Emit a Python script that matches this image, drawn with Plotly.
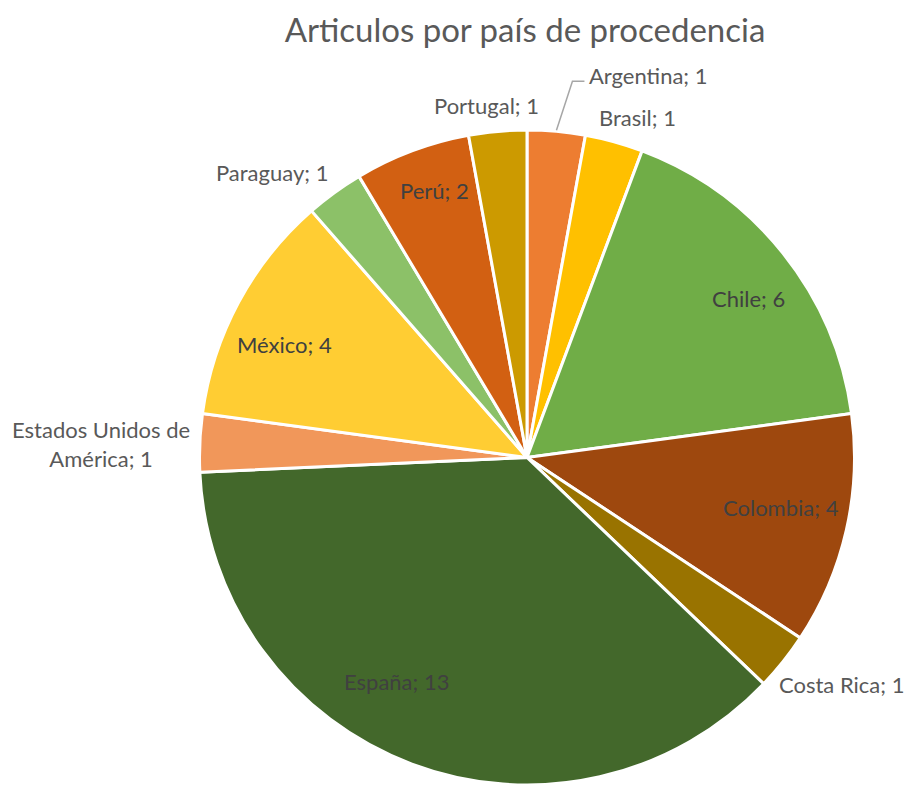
import math
import plotly.graph_objects as go

# ---- data ----
countries = ["Argentina", "Brasil", "Chile", "Colombia", "Costa Rica", "España",
             "Estados Unidos de América", "México", "Paraguay", "Perú", "Portugal"]
articles = [1, 1, 6, 4, 1, 13, 1, 4, 1, 2, 1]
label_texts = ["Argentina; 1", "Brasil; 1", "Chile; 6", "Colombia; 4", "Costa Rica; 1",
               "España; 13", "Estados Unidos de<br>América; 1", "México; 4",
               "Paraguay; 1", "Perú; 2", "Portugal; 1"]

# ---- style ----
colors = ["#ED7D31", "#FFC000", "#70AD47", "#9E480E", "#997300", "#43682B",
          "#F1975A", "#FFCD33", "#8CC168", "#D26012", "#CC9A00"]
label_mode = ["leader", "out", "in", "in", "out", "in", "out", "in", "out", "in", "out"]
# small pixel nudges of label text (style only)
label_nudge = [(0, 0), (-19, -1), (12, 8), (-8, -10), (-12, 2), (-36, -27),
               (0, 2), (-6, 14), (0, 2), (2, -16), (-10, -2)]

# page body has an 8px margin: work in window pixels and convert
OFF = 8
W, H = 912 - OFF, 785 - OFF
# pie placement in window pixels
PIE_CX, PIE_CY, PIE_R = 527, 458, 328

def to_paper(px, py):
    return (px - OFF) / W, 1 - (py - OFF) / H

dom_x = [(PIE_CX - PIE_R - OFF) / W, (PIE_CX + PIE_R - OFF) / W]
dom_y = [1 - (PIE_CY + PIE_R - OFF) / H, 1 - (PIE_CY - PIE_R - OFF) / H]

fig = go.Figure(go.Pie(
    labels=countries,
    values=articles,
    sort=False,
    direction="clockwise",
    rotation=0,
    marker=dict(colors=colors, line=dict(color="white", width=3)),
    textinfo="none",
    hoverinfo="label+value",
    domain=dict(x=dom_x, y=[max(0.0, dom_y[0]), dom_y[1]]),
    showlegend=False,
))

# actual geometry from domain (same as plotly computes)
dx0, dx1 = dom_x
dy0, dy1 = max(0.0, dom_y[0]), dom_y[1]
CX = (dx0 + dx1) / 2 * W + OFF
CY = (1 - (dy0 + dy1) / 2) * H + OFF
R = min((dx1 - dx0) * W, (dy1 - dy0) * H) / 2

FONT = "Lato"
FS = 22
total = sum(articles)
annotations = []
shapes = []
cum = 0
for name, val, txt, mode, nudge in zip(countries, articles, label_texts, label_mode, label_nudge):
    mid = (cum + val / 2) / total * 2 * math.pi
    cum += val
    s, c = math.sin(mid), math.cos(mid)
    if mode == "in":
        r = 0.82 * R
        px, py = CX + r * s + nudge[0], CY - r * c + nudge[1]
        x, y = to_paper(px, py)
        annotations.append(dict(x=x, y=y, xref="paper", yref="paper",
                                text=txt, showarrow=False, xanchor="center", yanchor="middle",
                                font=dict(family=FONT, size=FS, color="#404040")))
    elif mode == "out":
        r = R + 8
        px, py = CX + r * s + nudge[0], CY - r * c + nudge[1]
        x, y = to_paper(px, py)
        xa = "left" if s > 0.2 else ("right" if s < -0.2 else "center")
        ya = "bottom" if c > 0.2 else ("top" if c < -0.2 else "middle")
        annotations.append(dict(x=x, y=y, xref="paper", yref="paper",
                                text=txt, showarrow=False, xanchor=xa, yanchor=ya,
                                align="center",
                                font=dict(family=FONT, size=FS, color="#595959")))
    else:  # bent leader line from slice edge to the label
        ex, ey = CX + (R + 1) * s, CY - (R + 1) * c
        ax_, ay_ = to_paper(ex, ey)
        shapes.append(dict(type="path", xref="paper", yref="paper",
                           xsizemode="pixel", ysizemode="pixel",
                           xanchor=ax_, yanchor=ay_,
                           path="M0,0 L16,49 L28,49",
                           line=dict(color="#A6A6A6", width=1.5)))
        tx, ty = to_paper(ex + 31, ey - 55)
        annotations.append(dict(x=tx, y=ty, xref="paper", yref="paper",
                                text=txt, showarrow=False, xanchor="left", yanchor="middle",
                                font=dict(family=FONT, size=FS, color="#595959")))

tx, ty = to_paper(525, 30)
fig.update_layout(
    width=W, height=H,
    margin=dict(l=0, r=0, t=0, b=0),
    paper_bgcolor="white",
    plot_bgcolor="white",
    title=dict(text="Articulos por país de procedencia", x=tx, xanchor="center",
               y=ty, yanchor="middle",
               font=dict(family=FONT, size=33, color="#595959")),
    annotations=annotations,
    shapes=shapes,
)

fig.write_html("out.html")
